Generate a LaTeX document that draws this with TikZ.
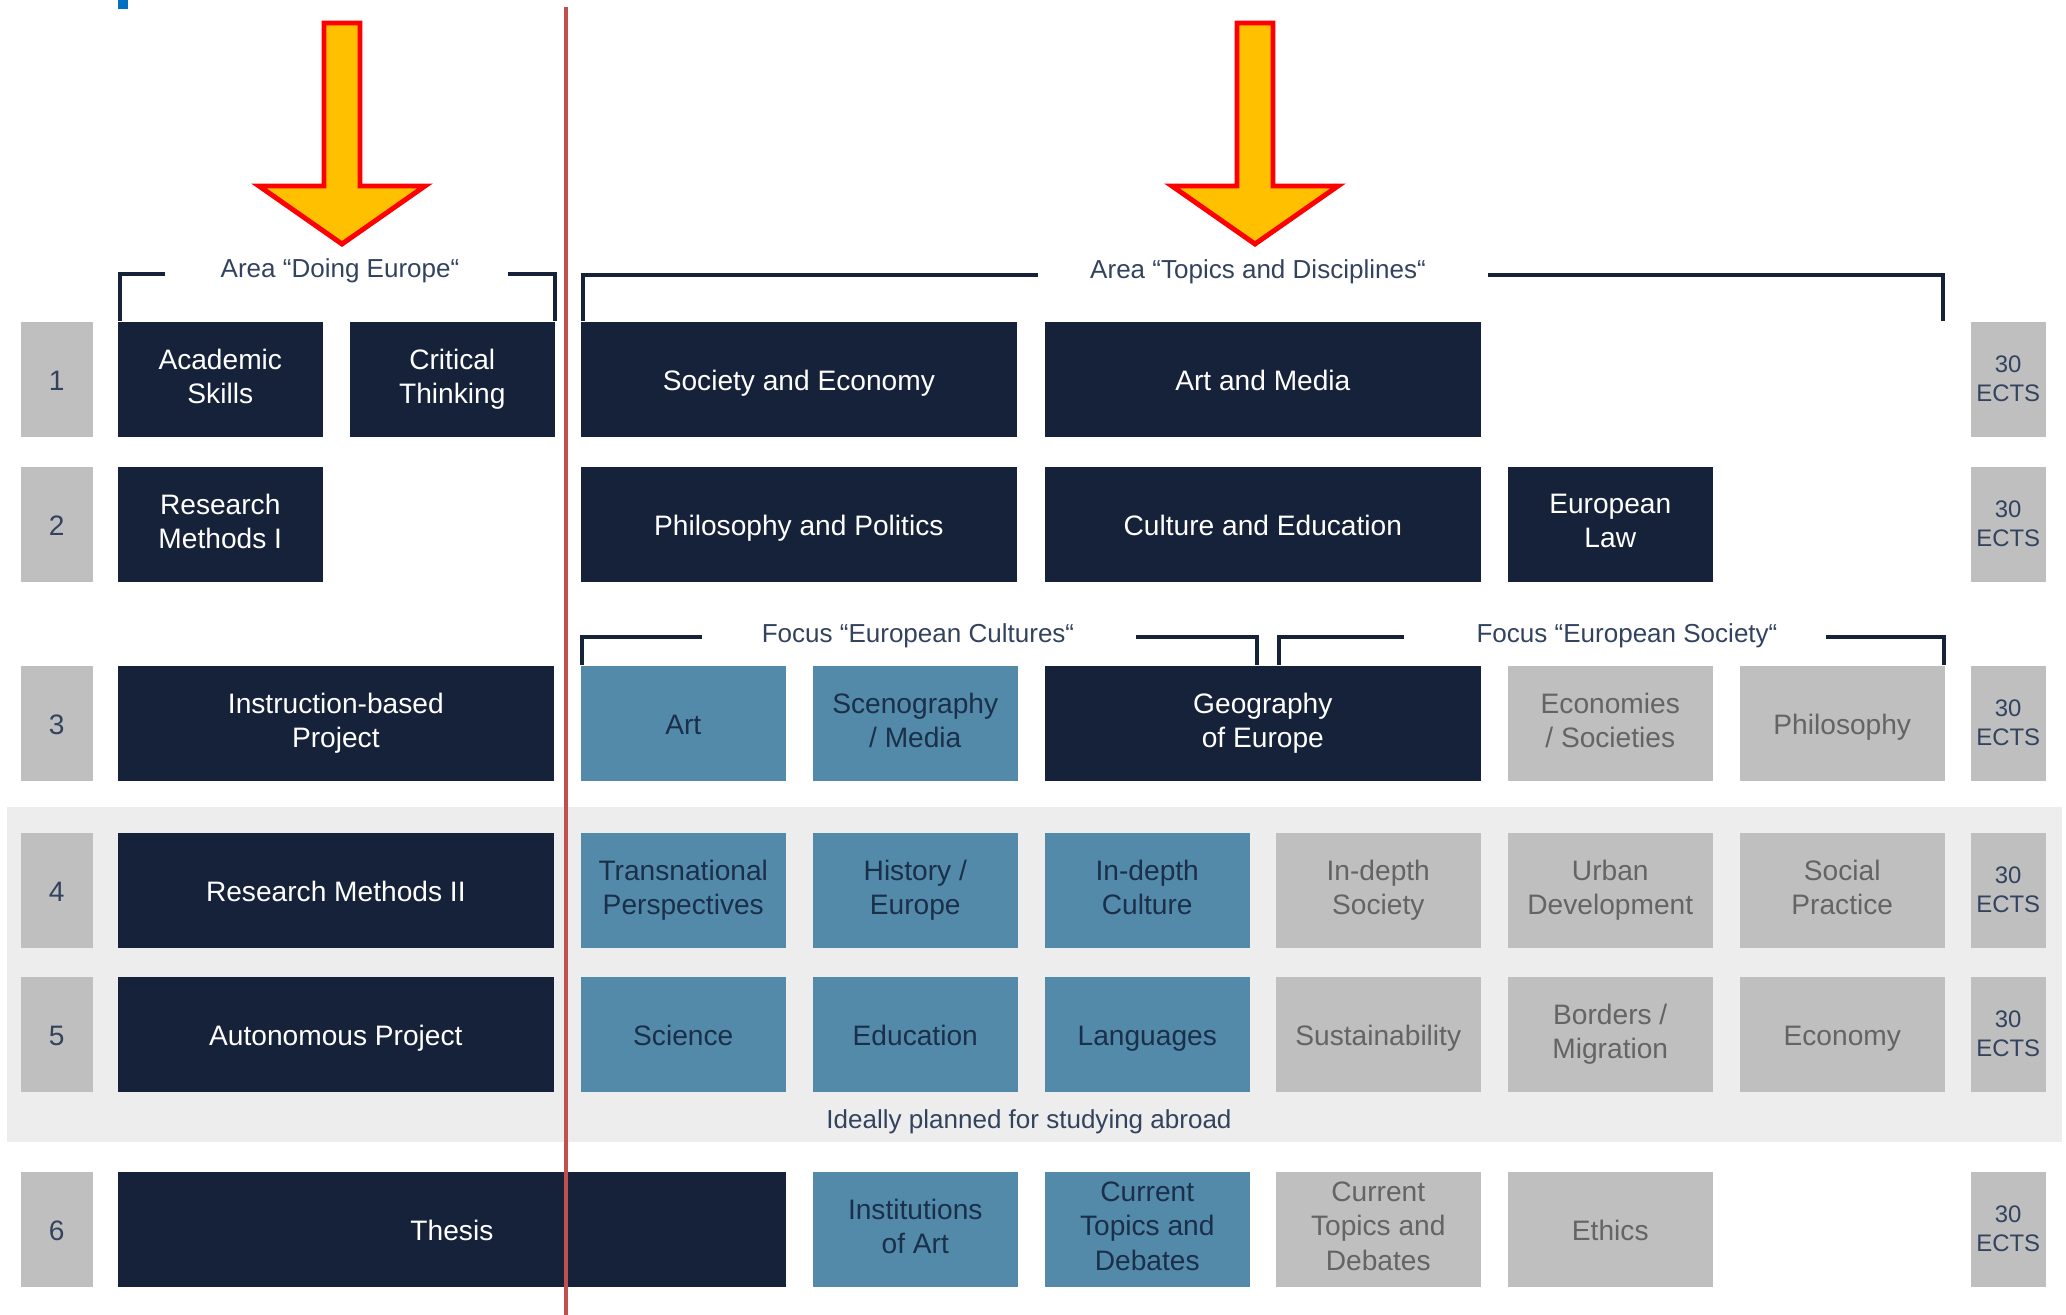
\documentclass[tikz,border=0pt]{standalone}
\usepackage{fontspec}
\setmainfont{Liberation Sans}
\definecolor{modnavy}{HTML}{16223A}
\definecolor{modblue}{HTML}{538AAA}
\definecolor{modgray}{HTML}{BFBFBF}
\definecolor{modink}{HTML}{1A2F4A}
\definecolor{grayink}{HTML}{646464}
\definecolor{semink}{HTML}{33435E}
\definecolor{bandgray}{HTML}{EDEDED}
\definecolor{redline}{HTML}{C0504D}
\definecolor{arrowfill}{HTML}{FFC000}
\definecolor{titleblue}{HTML}{0070C0}
\newcommand\modstrut{\rule[-0.18\baselineskip]{0pt}{\baselineskip}}
\newcommand\ectsstrut{\rule[-0.04\baselineskip]{0pt}{\baselineskip}}
\tikzset{
  mod/.style={anchor=north west, inner sep=0pt, minimum width=2.05cm, minimum height=1.15cm,
    align=center, font=\fontsize{8}{9.7}\selectfont,
    execute at begin node=\modstrut, execute at end node=\modstrut},
  core/.style={mod, fill=modnavy, text=white},
  cult/.style={mod, fill=modblue, text=modink},
  socy/.style={mod, fill=modgray, text=grayink},
  wide/.style={minimum width=4.36cm},
  sem/.style={mod, fill=modgray, text=semink, minimum width=0.72cm},
  ects/.style={anchor=north west, inner sep=0pt, minimum width=0.75cm, minimum height=1.15cm,
    align=center, fill=modgray, text=semink, font=\fontsize{6.8}{8.2}\selectfont,
    execute at begin node=\ectsstrut, execute at end node=\ectsstrut},
  lbl/.style={inner sep=0pt, text=semink, font=\fontsize{7.4}{9}\selectfont},
  brk/.style={draw=modnavy, line width=0.9pt},
  bigarrow/.style={fill=arrowfill, draw=red, line width=1.4pt, line join=miter},
}
\begin{document}
\begin{tikzpicture}[x=0.01cm, y=-0.01cm]
  \useasboundingbox (0,0) rectangle (2066,1315);
  %\draw[help lines, step=100] (0,0) grid (2066,1315);
  \fill[titleblue] (118,0) rectangle (128,9);
  \fill[bandgray] (7,807) rectangle (2062,1142);

  \foreach \s/\y in {1/321,2/466,3/665,4/832,5/976,6/1171} {
    \node[sem] (s\s) at (20,\y) {\s};
    \node[ects] (e\s) at (1970,\y) {30\\ECTS};}

  \foreach \cx in {342,1255}
    \draw[bigarrow] (\cx-18,23) -- (\cx+18,23) -- (\cx+18,186) -- (\cx+83,186)
      -- (\cx,244) -- (\cx-83,186) -- (\cx-18,186) -- cycle;

  % semester 1
  \node[core] (acs) at (117,321) {Academic\\Skills};
  \node[core] (crt) at (349,321) {Critical\\Thinking};
  \node[core, wide] (soceco) at (580,321) {Society and Economy};
  \node[core, wide] (artmed) at (1044,321) {Art and Media};
  % semester 2
  \node[core] (rm1) at (117,466) {Research\\Methods I};
  \node[core, wide] (phipol) at (580,466) {Philosophy and Politics};
  \node[core, wide] (culedu) at (1044,466) {Culture and Education};
  \node[core] (eulaw) at (1507,466) {European\\Law};
  % semester 3
  \node[core, wide] (ibp) at (117,665) {Instruction-based\\Project};
  \node[cult] (art) at (580,665) {Art};
  \node[cult] (sceno) at (812,665) {Scenography\\/ Media};
  \node[core, wide] (geo) at (1044,665) {Geography\\of Europe};
  \node[socy] (econsoc) at (1507,665) {Economies\\/ Societies};
  \node[socy] (phil) at (1739,665) {Philosophy};
  % semester 4
  \node[core, wide] (rm2) at (117,832) {Research Methods II};
  \node[cult] (trans) at (580,832) {Transnational\\Perspectives};
  \node[cult] (hist) at (812,832) {History /\\Europe};
  \node[cult] (idcult) at (1044,832) {In-depth\\Culture};
  \node[socy] (idsoc) at (1275,832) {In-depth\\Society};
  \node[socy] (urban) at (1507,832) {Urban\\Development};
  \node[socy] (socpr) at (1739,832) {Social\\Practice};
  % semester 5
  \node[core, wide] (auto) at (117,976) {Autonomous Project};
  \node[cult] (sci) at (580,976) {Science};
  \node[cult] (edu) at (812,976) {Education};
  \node[cult] (lang) at (1044,976) {Languages};
  \node[socy] (sust) at (1275,976) {Sustainability};
  \node[socy] (border) at (1507,976) {Borders /\\Migration};
  \node[socy] (econ) at (1739,976) {Economy};
  % semester 6
  \node[core, minimum width=6.68cm] (thesis) at (117,1171) {Thesis};
  \node[cult] (inst) at (812,1171) {Institutions\\of Art};
  \node[cult] (ctdc) at (1044,1171) {Current\\Topics and\\Debates};
  \node[socy] (ctds) at (1275,1171) {Current\\Topics and\\Debates};
  \node[socy] (ethics) at (1507,1171) {Ethics};

  \node[lbl] (doing) at (340,271) {Area “Doing Europe“};
  \node[lbl] (topics) at (1258,272) {Area “Topics and Disciplines“};
  \node[lbl] (fcult) at (918,636) {Focus “European Cultures“};
  \node[lbl] (fsoc) at (1627,636) {Focus “European Society“};
  \node[lbl] (abroad) at (1029,1122) {Ideally planned for studying abroad};

  \draw[brk] (120,321) |- (165,274);
  \draw[brk] (508,274) -| (555,321);
  \draw[brk] (583,321) |- (1038,275);
  \draw[brk] (1488,275) -| (1943,321);
  \draw[brk] (582,665) |- (702,637);
  \draw[brk] (1136,637) -| (1257,665);
  \draw[brk] (1279,665) |- (1404,637);
  \draw[brk] (1826,637) -| (1944,665);

  \draw[redline, line width=1.4pt] (566,7) -- (566,1315);
\end{tikzpicture}
\end{document}
